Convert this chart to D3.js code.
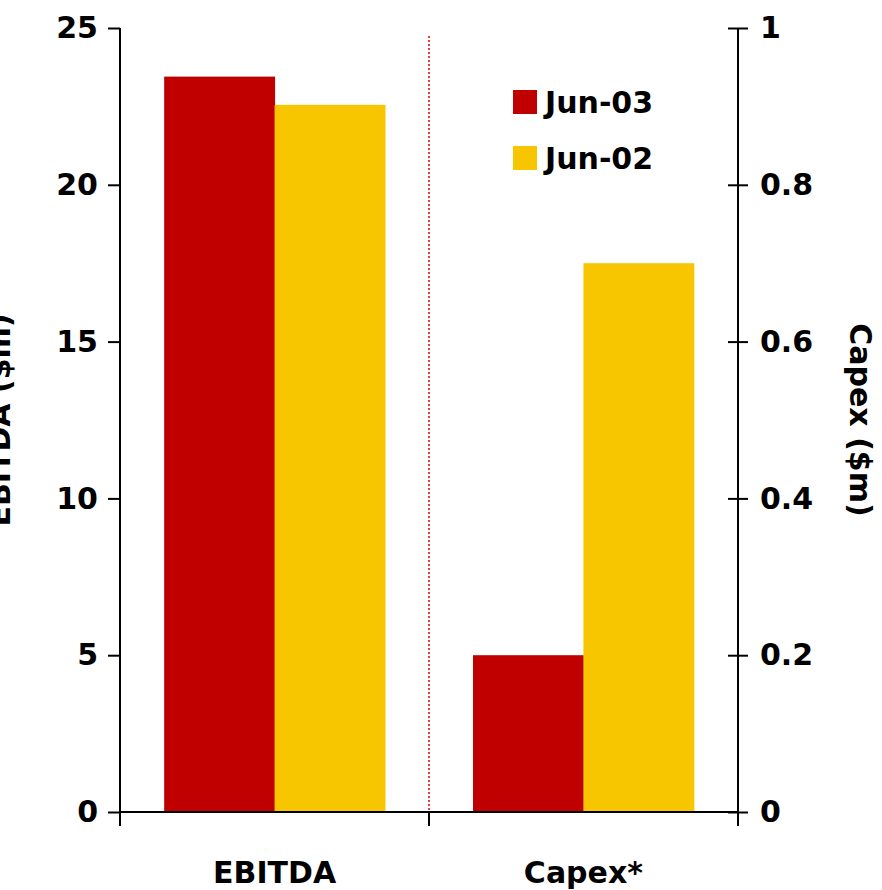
<!DOCTYPE html><html><head><meta charset="utf-8">
<script src="https://cdn.jsdelivr.net/npm/d3@7"></script>
<style>body{margin:0;background:#fff}text{font-family:"DejaVu Sans",sans-serif;font-weight:bold}</style></head><body>
<svg id="c" width="882" height="890"></svg>
<script>
const categories=["EBITDA","Capex*"];
const series=["Jun-03","Jun-02"];
const colors=["#C00000","#F7C600"];
const ebitda=[23.45,22.55];
const capex=[0.20,0.70];
const leftTicks=[0,5,10,15,20,25];
const rightTicks=[0,0.2,0.4,0.6,0.8,1];
const svg=d3.select("#c");
const L=120,R=738,T=28,B=812;
const yL=d3.scaleLinear().domain([0,25]).range([B,T]);
const yR=d3.scaleLinear().domain([0,1]).range([B,T]);
const x0=d3.scaleBand().domain(categories).range([L,R]).paddingInner(0.285).paddingOuter(0.143);
const x1=d3.scaleBand().domain(series).range([0,x0.bandwidth()]);
categories.forEach((c,ci)=>{
  const y=ci===0?yL:yR;
  series.forEach((s,si)=>{
    const v=ci===0?ebitda[si]:capex[si];
    svg.append("rect").attr("x",x0(c)+x1(s)).attr("width",x1.bandwidth()+0.5).attr("y",y(v)).attr("height",B-y(v)).attr("fill",colors[si]);
  });
});
svg.append("line").attr("x1",(L+R)/2).attr("x2",(L+R)/2).attr("y1",36).attr("y2",B).attr("stroke","#e00000").attr("stroke-width",1.5).attr("stroke-dasharray","2,2");
const fs="30px";
const la=svg.append("g").attr("transform",`translate(${L},0)`).call(d3.axisLeft(yL).tickValues(leftTicks).tickSize(12).tickPadding(10));
const ra=svg.append("g").attr("transform",`translate(${R},0)`).call(d3.axisRight(yR).tickValues(rightTicks).tickSize(10).tickPadding(12).tickFormat(d=>d===0||d===1?d:d3.format(".1f")(d)));
ra.selectAll(".tick line").attr("x1",-10);
const ba=svg.append("g").attr("transform",`translate(0,${B})`).call(d3.axisBottom(x0).tickSize(0).tickPadding(50));
[L,(L+R)/2,R].forEach(x=>svg.append("line").attr("x1",x).attr("x2",x).attr("y1",B).attr("y2",B+14).attr("stroke","#000").attr("stroke-width",2));
[la,ra,ba].forEach(g=>{g.selectAll("path,line").attr("stroke","#000").attr("stroke-width",2);g.selectAll("text").attr("font-size",fs).attr("font-family","DejaVu Sans").attr("font-weight","bold").attr("fill","#000");g.select(".domain").attr("d",null);});
la.append("line").attr("y1",T).attr("y2",B).attr("stroke","#000").attr("stroke-width",2);
ra.append("line").attr("y1",T).attr("y2",B).attr("stroke","#000").attr("stroke-width",2);
svg.append("line").attr("x1",L).attr("x2",R).attr("y1",B).attr("y2",B).attr("stroke","#000").attr("stroke-width",2);
svg.append("text").attr("transform",`translate(10,420) rotate(-90)`).attr("text-anchor","middle").attr("font-size",fs).text("EBITDA ($m)");
svg.append("text").attr("transform",`translate(850,420) rotate(90)`).attr("text-anchor","middle").attr("font-size",fs).text("Capex ($m)");
series.forEach((s,i)=>{
  svg.append("rect").attr("x",513).attr("y",90+i*56).attr("width",24).attr("height",24).attr("fill",colors[i]);
  svg.append("text").attr("x",545).attr("y",113+i*56).attr("font-size",fs).text(s);
});
</script></body></html>
